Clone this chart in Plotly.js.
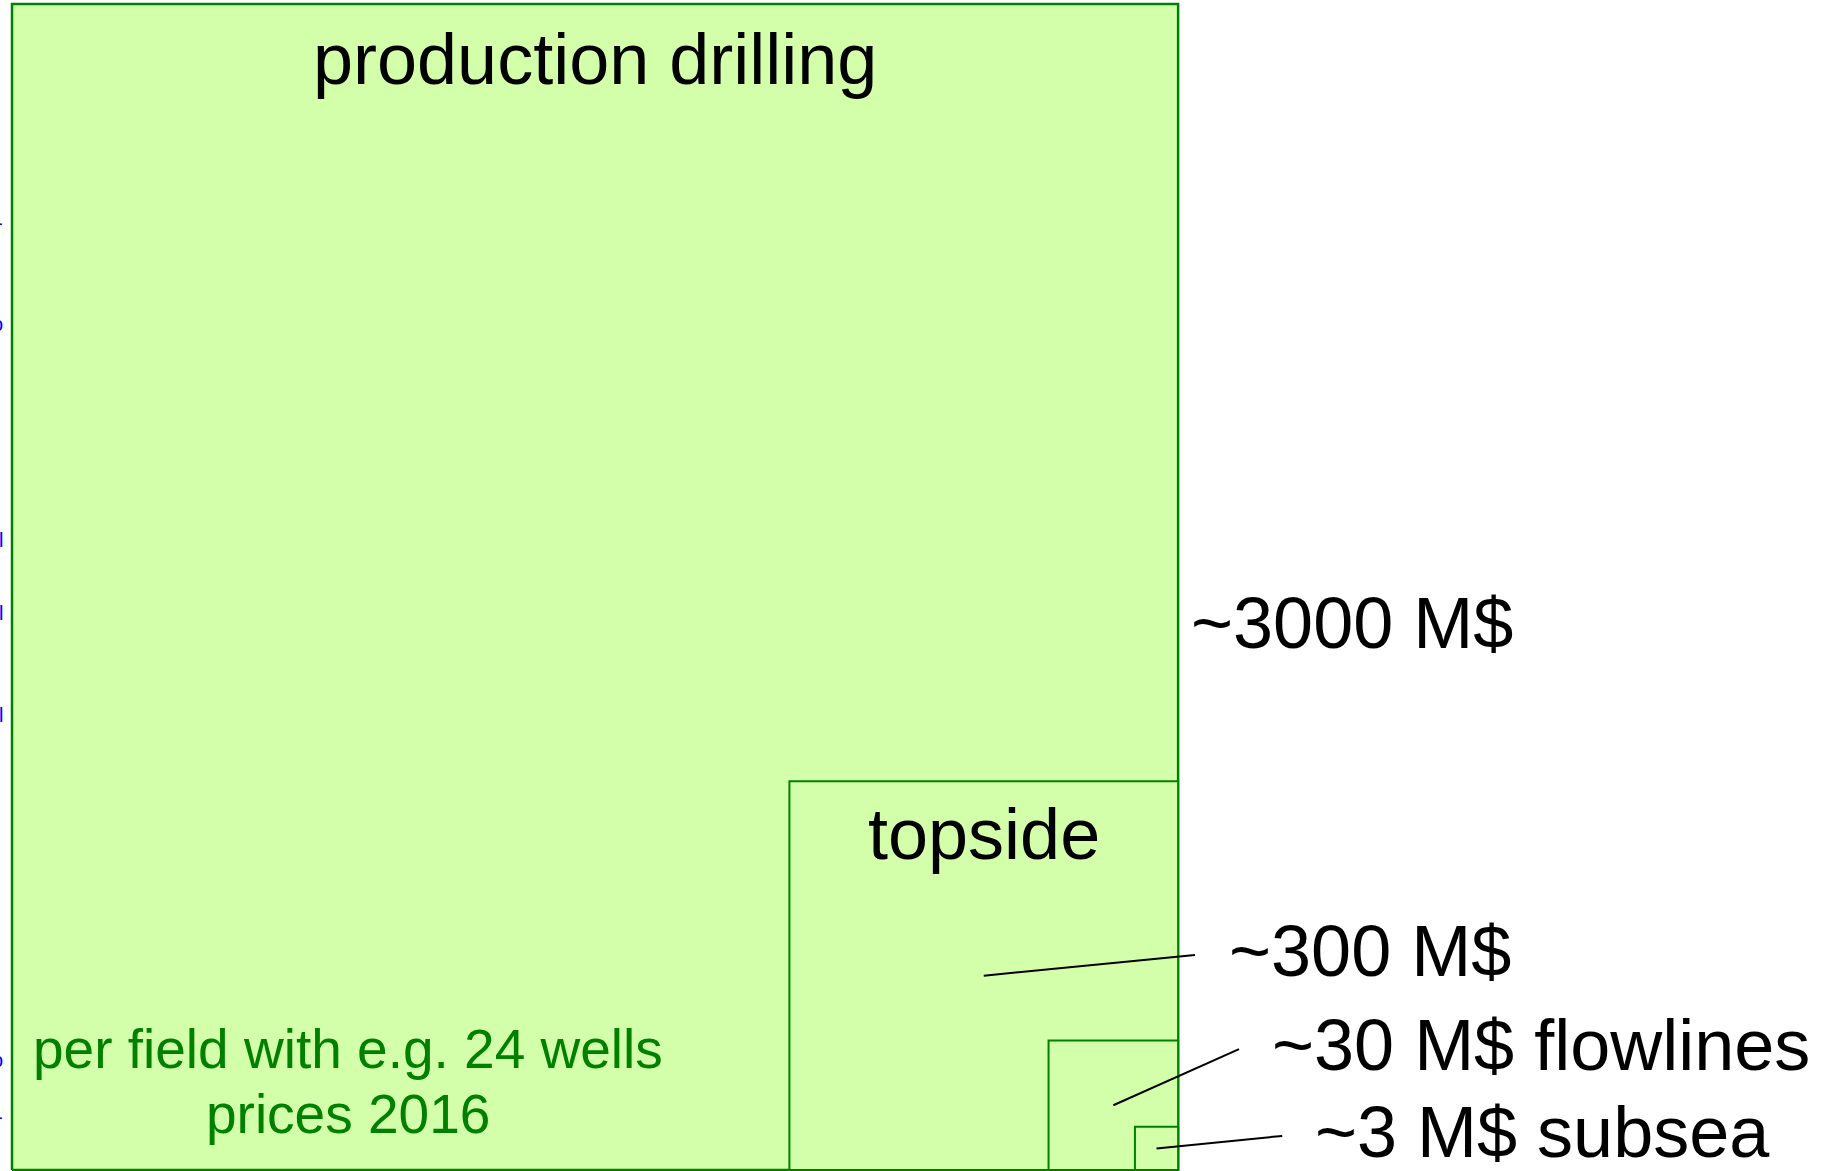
<!DOCTYPE html>
<html>
<head>
<meta charset="utf-8">
<script src="https://cdn.plot.ly/plotly-3.0.1.min.js"></script>
<style>html,body{margin:0;padding:0;background:#fff;}#chart{width:1832px;height:1171px;}</style>
</head>
<body>
<div id="chart"></div>
<script>
// ---- data ----
const categories = ["production drilling", "topside", "flowlines", "subsea"];
const costs = [3000, 300, 30, 3];                 // M$
const costLabels = ["~3000 M$", "~300 M$", "~30 M$ flowlines", "~3 M$ subsea"];
const sides = [27, 9, 3, 1];                      // relative side length of each square
const noteLines = ["per field with e.g. 24 wells", "prices 2016"];

// ---- layout constants ----
const FILL = "#d4ffaa";
const EDGE = "#008000";
const FONT = "Liberation Sans, Arial, sans-serif";
const corner = sides[0];   // squares share the bottom-right corner
const labelPos = [ {x: 27.25, y: 12.67}, {x: 28.13, y: 5.07}, {x: 29.13, y: 2.89}, {x: 30.13, y: 0.89} ];
const leaderEnd = [ null, {x: 27.39, y: 4.98}, {x: 28.41, y: 2.80}, {x: 29.41, y: 0.79} ];

const traces = [];
sides.forEach((s, i) => {
  traces.push({
    type: "scatter", mode: "lines",
    x: [corner - s, corner, corner, corner - s, corner - s],
    y: [0, 0, s, s, 0],
    fill: "toself", fillcolor: FILL,
    line: {color: EDGE, width: i === 0 ? 2.5 : 2},
    hoverinfo: "skip", showlegend: false, name: categories[i]
  });
});
sides.forEach((s, i) => {
  if (!leaderEnd[i]) return;
  traces.push({
    type: "scatter", mode: "lines",
    x: [corner - s / 2, leaderEnd[i].x],
    y: [s / 2, leaderEnd[i].y],
    line: {color: "#000", width: 2},
    hoverinfo: "skip", showlegend: false
  });
});

const annotations = [];
// titles inside the two big squares
annotations.push({x: corner - sides[0] / 2, y: 25.72, xref: "x", yref: "y", text: categories[0],
  showarrow: false, xanchor: "center", yanchor: "middle", font: {family: FONT, size: 72, color: "#000"}});
annotations.push({x: corner - sides[1] / 2, y: 7.78, xref: "x", yref: "y", text: categories[1],
  showarrow: false, xanchor: "center", yanchor: "middle", font: {family: FONT, size: 72, color: "#000"}});
// cost labels
costLabels.forEach((t, i) => {
  annotations.push({x: labelPos[i].x, y: labelPos[i].y, xref: "x", yref: "y", text: t,
    showarrow: false, xanchor: "left", yanchor: "middle", font: {family: FONT, size: 72, color: "#000"}});
});
// green note
const noteY = [2.80, 1.30];
noteLines.forEach((t, i) => {
  annotations.push({x: 7.78, y: noteY[i], xref: "x", yref: "y", text: t,
    showarrow: false, xanchor: "center", yanchor: "middle", font: {family: FONT, size: 55, color: EDGE}});
});
// clipped blue fragments at left edge (cut off in the original as well)
const frag = [ ["-", 223], ["o", 324], ["l", 540], ["l", 613], ["l", 715], ["o", 1060], ["-", 1117] ];
frag.forEach(f => {
  annotations.push({x: 4 / 1832, y: 1 - f[1] / 1171, xref: "paper", yref: "paper", text: f[0],
    showarrow: false, xanchor: "right", yanchor: "middle", borderpad: 0,
    font: {family: FONT, size: 20, color: "#0000ff"}});
});

const layout = {
  width: 1832, height: 1171,
  margin: {l: 0, r: 0, t: 0, b: 0, pad: 0},
  paper_bgcolor: "#fff", plot_bgcolor: "#fff",
  xaxis: {range: [-0.278, 42.14], visible: false, showgrid: false, zeroline: false},
  yaxis: {range: [-0.0232, 27.093], visible: false, showgrid: false, zeroline: false},
  annotations: annotations,
  showlegend: false
};
Plotly.newPlot("chart", traces, layout, {staticPlot: true, displayModeBar: false});
</script>
</body>
</html>
